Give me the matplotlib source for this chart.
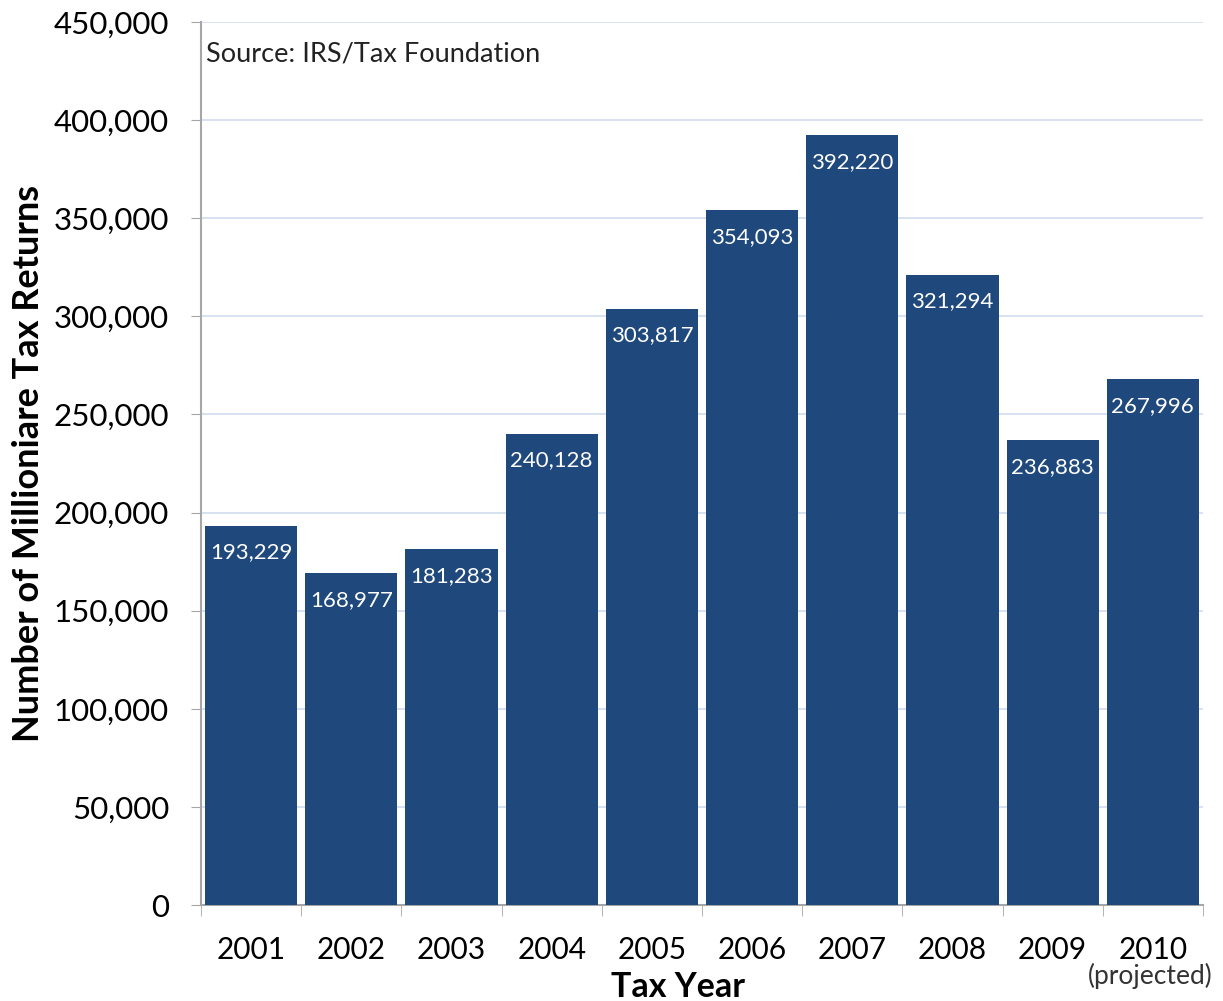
import matplotlib.pyplot as plt
from matplotlib.ticker import FuncFormatter, FixedLocator, NullFormatter

plt.rcParams['font.family'] = ['Lato', 'DejaVu Sans']

years = ['2001', '2002', '2003', '2004', '2005', '2006', '2007', '2008', '2009', '2010']
returns = [193229, 168977, 181283, 240128, 303817, 354093, 392220, 321294, 236883, 267996]

bar_color = '#1f487c'
axis_grey = '#a6a6a6'

fig = plt.figure(figsize=(12.23, 10.01), dpi=100)
ax = fig.add_axes([0.1643, 0.0959, 0.8193, 0.8821])

x = range(len(years))
bars = ax.bar(x, returns, width=0.92, color=bar_color, zorder=3)

for xi, v in zip(x, returns):
    ax.annotate(f'{v:,}', (xi, v), xytext=(0, -12), textcoords='offset points',
                ha='center', va='top', color='white', fontsize=16, zorder=4)

ax.set_xlim(-0.5, len(years) - 0.5)
ax.set_ylim(0, 450000)
ax.set_yticks(range(0, 450001, 50000))
ax.yaxis.set_major_formatter(FuncFormatter(lambda v, p: f'{int(v):,}'))
ax.tick_params(axis='y', labelsize=22.5, length=7, color=axis_grey, pad=16)

# year labels centred on bars, tick marks on the slot edges
ax.set_xticks(list(x))
ax.set_xticklabels(years)
ax.tick_params(axis='x', which='major', length=0, labelsize=21.5, pad=22)
ax.xaxis.set_minor_locator(FixedLocator([i - 0.5 for i in range(len(years) + 1)]))
ax.xaxis.set_minor_formatter(NullFormatter())
ax.tick_params(axis='x', which='minor', length=8, color=axis_grey)

ax.grid(axis='y', color='#cfdcee', linewidth=1.2, zorder=0)
for s in ['top', 'right']:
    ax.spines[s].set_visible(False)
for s in ['left', 'bottom']:
    ax.spines[s].set_color(axis_grey)
    ax.spines[s].set_linewidth(1.5)

ax.text(0.005, 0.978, 'Source: IRS/Tax Foundation', transform=ax.transAxes,
        ha='left', va='top', fontsize=19.5, color='#222222')

ax.annotate('(projected)', (9, 0), xytext=(-2, -42), textcoords='offset points',
            ha='center', va='top', fontsize=19, color='#333333',
            annotation_clip=False)

ax.set_ylabel('Number of Millioniare Tax Returns', fontsize=26, fontweight='bold', labelpad=6)
fig.text(678 / 1223, 1 - 987 / 1001, 'Tax Year', ha='center', va='center',
         fontsize=24.5, fontweight='bold')

fig.savefig('out.png', dpi=100)
